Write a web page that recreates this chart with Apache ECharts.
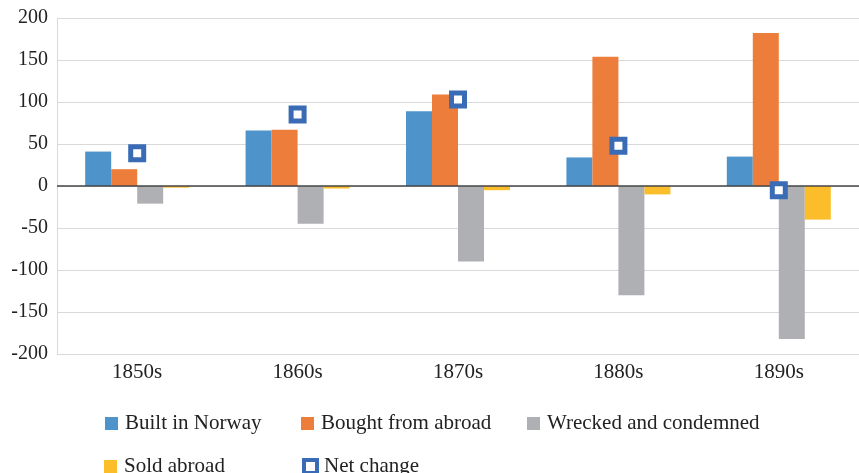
<!DOCTYPE html>
<html>
<head>
<meta charset="utf-8">
<script src="https://cdn.jsdelivr.net/npm/echarts@6/dist/echarts.min.js"></script>
<style>
  html, body { margin: 0; padding: 0; background: #fff; }
  #chart { width: 859px; height: 473px; }
</style>
</head>
<body>
<div id="chart"></div>
<script>
const decades = ["1850s", "1860s", "1870s", "1880s", "1890s"];
const builtInNorway = [41, 66, 89, 34, 35];
const boughtFromAbroad = [20, 67, 109, 154, 182];
const wreckedAndCondemned = [-21, -45, -90, -130, -182];
const soldAbroad = [-2, -3, -5, -10, -40];
const netChange = [39, 85, 103, 48, -5];

const serif = "'Liberation Serif', 'Times New Roman', serif";
const textColor = "#222";
const netBlue = "#3a6cb5";

const barSeries = (name, data, color, extra) =>
  Object.assign(
    {
      name: name,
      type: "bar",
      data: data,
      barWidth: 26,
      barGap: "0%",
      itemStyle: { color: color },
    },
    extra || {}
  );

const legendAt = (item, left, top, extra) =>
  Object.assign(
    {
      data: [item],
      left: left,
      top: top,
      icon: "rect",
      itemWidth: 13,
      itemHeight: 13,
      textStyle: {
        fontFamily: serif,
        fontSize: 21,
        color: textColor,
        padding: [0, 0, 0, 2],
      },
    },
    extra || {}
  );

const option = {
  animation: false,
  grid: { left: 57, top: 18, width: 805, height: 336 },
  xAxis: {
    type: "category",
    data: decades,
    axisLine: { show: false, onZero: false },
    axisTick: { show: false },
    axisLabel: {
      fontFamily: serif,
      fontSize: 21,
      color: textColor,
      margin: 8,
    },
  },
  yAxis: {
    type: "value",
    min: -200,
    max: 200,
    interval: 50,
    axisLine: { show: true, lineStyle: { color: "#d9d9d9", width: 1 } },
    axisTick: { show: false },
    splitLine: { lineStyle: { color: "#d9d9d9", width: 1 } },
    axisLabel: {
      fontFamily: serif,
      fontSize: 20,
      color: textColor,
      margin: 9,
    },
  },
  legend: [
    legendAt("Built in Norway", 100, 408),
    legendAt("Bought from abroad", 296, 408),
    legendAt("Wrecked and condemned", 522, 408),
    legendAt("Sold abroad", 99, 451),
    legendAt(
      {
        name: "Net change",
        itemStyle: { color: "#fff", borderColor: netBlue, borderWidth: 4, opacity: 1 },
      },
      297,
      451,
      { itemWidth: 13, itemHeight: 13 }
    ),
  ],
  series: [
    barSeries("Built in Norway", builtInNorway, "#4e93c9", {
      markLine: {
        silent: true,
        symbol: "none",
        label: { show: false },
        lineStyle: { color: "#444", width: 1.5, type: "solid" },
        data: [{ yAxis: 0 }],
      },
    }),
    barSeries("Bought from abroad", boughtFromAbroad, "#ed7d3a"),
    barSeries("Wrecked and condemned", wreckedAndCondemned, "#afb0b4"),
    barSeries("Sold abroad", soldAbroad, "#fbbd2a"),
    {
      name: "Net change",
      type: "scatter",
      data: netChange,
      symbol: "rect",
      symbolSize: 13,
      z: 5,
      itemStyle: {
        color: "#fff",
        borderColor: netBlue,
        borderWidth: 5,
        opacity: 1,
      },
    },
  ],
};

const chart = echarts.init(document.getElementById("chart"));
chart.setOption(option);
</script>
</body>
</html>
